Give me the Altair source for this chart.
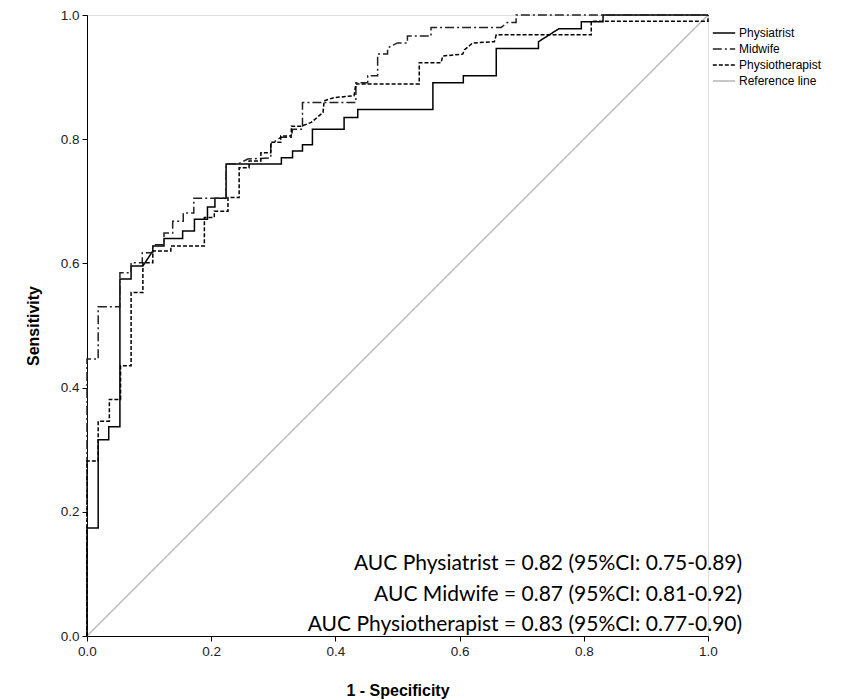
import altair as alt
import pandas as pd

series_names = ["Physiatrist", "Midwife", "Physiotherapist", "Reference line"]
series_colors = ["#000000", "#222222", "#000000", "#b4b4b4"]
series_dashes = [[1, 0], [9, 3, 2, 3], [4, 2], [1, 0]]

# ROC curve vertices (1 - specificity, sensitivity)
physiatrist_points = [
    (0, 0), (0, 0.174), (0.018, 0.174), (0.018, 0.316), (0.035, 0.316), (0.035, 0.337),
    (0.053, 0.337), (0.053, 0.575), (0.071, 0.575), (0.071, 0.596), (0.090, 0.596),
    (0.106, 0.620), (0.106, 0.628), (0.124, 0.628), (0.124, 0.640), (0.154, 0.640),
    (0.154, 0.652), (0.173, 0.652), (0.173, 0.671), (0.194, 0.671), (0.194, 0.691),
    (0.206, 0.691), (0.206, 0.705), (0.224, 0.705), (0.224, 0.760), (0.313, 0.760),
    (0.313, 0.770), (0.331, 0.770), (0.331, 0.781), (0.347, 0.781), (0.347, 0.791),
    (0.363, 0.791), (0.363, 0.816), (0.414, 0.816), (0.414, 0.835), (0.436, 0.835),
    (0.436, 0.848), (0.557, 0.848), (0.557, 0.891), (0.606, 0.891), (0.606, 0.902),
    (0.659, 0.902), (0.659, 0.946), (0.727, 0.946), (0.727, 0.957), (0.760, 0.978),
    (0.796, 0.978), (0.796, 0.989), (0.831, 0.989), (0.831, 1.0), (1.0, 1.0),
]
midwife_points = [
    (0, 0), (0, 0.446), (0.018, 0.446), (0.018, 0.530), (0.053, 0.530), (0.053, 0.585),
    (0.071, 0.585), (0.071, 0.601), (0.089, 0.601), (0.089, 0.617), (0.106, 0.617),
    (0.106, 0.630), (0.124, 0.630), (0.124, 0.649), (0.138, 0.649), (0.138, 0.668),
    (0.155, 0.668), (0.155, 0.681), (0.172, 0.681), (0.172, 0.705), (0.224, 0.705),
    (0.224, 0.760), (0.243, 0.760), (0.259, 0.768), (0.296, 0.770), (0.296, 0.792),
    (0.312, 0.803), (0.329, 0.803), (0.331, 0.816), (0.347, 0.816), (0.347, 0.859),
    (0.433, 0.859), (0.433, 0.891), (0.452, 0.891), (0.452, 0.902), (0.468, 0.902),
    (0.468, 0.937), (0.484, 0.937), (0.484, 0.947), (0.500, 0.955), (0.516, 0.955),
    (0.516, 0.966), (0.554, 0.966), (0.554, 0.980), (0.667, 0.980), (0.677, 0.988),
    (0.691, 0.988), (0.691, 1.0), (1.0, 1.0),
]
physiotherapist_points = [
    (0, 0), (0, 0.282), (0.018, 0.282), (0.018, 0.346), (0.036, 0.346), (0.036, 0.381),
    (0.054, 0.381), (0.054, 0.435), (0.071, 0.435), (0.071, 0.553), (0.090, 0.553),
    (0.090, 0.601), (0.106, 0.601), (0.106, 0.620), (0.135, 0.620), (0.135, 0.628),
    (0.189, 0.628), (0.189, 0.674), (0.205, 0.674), (0.205, 0.684), (0.227, 0.684),
    (0.227, 0.706), (0.245, 0.706), (0.245, 0.754), (0.261, 0.754), (0.261, 0.765),
    (0.280, 0.765), (0.280, 0.778), (0.296, 0.778), (0.296, 0.795), (0.312, 0.795),
    (0.312, 0.805), (0.329, 0.805), (0.329, 0.821), (0.345, 0.821), (0.361, 0.827),
    (0.380, 0.843), (0.382, 0.862), (0.398, 0.867), (0.430, 0.870), (0.433, 0.889),
    (0.535, 0.889), (0.535, 0.923), (0.570, 0.923), (0.573, 0.934), (0.605, 0.937),
    (0.608, 0.944), (0.621, 0.955), (0.656, 0.957), (0.659, 0.968), (0.812, 0.968),
    (0.812, 0.990), (1.0, 0.990), (1.0, 1.0),
]
reference_points = [(0, 0), (1, 1)]

tick_values = [0.0, 0.2, 0.4, 0.6, 0.8, 1.0]

annotation_texts = [
    "AUC Physiatrist = 0.82 (95%CI: 0.75-0.89)",
    "AUC Midwife = 0.87 (95%CI: 0.81-0.92)",
    "AUC Physiotherapist = 0.83 (95%CI: 0.77-0.90)",
]
annotation_x = [1.055, 1.055, 1.055]
annotation_y = [0.116, 0.066, 0.017]

rows = []
for name, pts in zip(series_names, [physiatrist_points, midwife_points,
                                    physiotherapist_points, reference_points]):
    for i, (a, b) in enumerate(pts):
        rows.append({"series": name, "fpr": a, "tpr": b, "idx": i})
df = pd.DataFrame(rows)
ann = pd.DataFrame({"text": annotation_texts, "x": annotation_x, "y": annotation_y})

FONT = "Liberation Sans"

x_axis = alt.Axis(values=tick_values, format=".1f", grid=False, labelFlush=False,
                  labelFont=FONT, labelFontSize=13.5, labelColor="#222222",
                  tickColor="black", domainColor="black", tickSize=5, labelPadding=3,
                  title="1 - Specificity", titleFont=FONT, titleFontSize=16,
                  titleFontWeight="bold", titleColor="black", titlePadding=25)
y_axis = alt.Axis(values=tick_values, format=".1f", grid=False, labelFlush=False,
                  labelFont=FONT, labelFontSize=13.5, labelColor="#222222",
                  tickColor="black", domainColor="black", tickSize=5, labelPadding=3,
                  title="Sensitivity", titleFont=FONT, titleFontSize=16,
                  titleFontWeight="bold", titleColor="black", titlePadding=19)

xs = alt.Scale(domain=[0, 1], nice=False, zero=False)
ys = alt.Scale(domain=[0, 1], nice=False, zero=False)


def make_legend():
    return alt.Legend(title=None, orient="none", legendX=625, legendY=11,
                      symbolType="stroke", symbolSize=500, clipHeight=14,
                      symbolStrokeWidth=1.5, labelFont=FONT,
                      labelFontSize=12, labelColor="black",
                      labelOffset=3, rowPadding=2, padding=0)


color_enc = alt.Color("series:N",
                      scale=alt.Scale(domain=series_names, range=series_colors),
                      legend=make_legend())
dash_enc = alt.StrokeDash("series:N",
                          scale=alt.Scale(domain=series_names, range=series_dashes),
                          legend=make_legend())

base = alt.Chart(df)

ref = base.transform_filter(alt.datum.series == "Reference line").mark_line(
    strokeWidth=1.3).encode(
    x=alt.X("fpr:Q", scale=xs, axis=x_axis),
    y=alt.Y("tpr:Q", scale=ys, axis=y_axis),
    color=color_enc, strokeDash=dash_enc, order="idx:Q")

roc = base.transform_filter(alt.datum.series != "Reference line").mark_line(
    strokeWidth=1.5).encode(
    x=alt.X("fpr:Q", scale=xs, axis=x_axis),
    y=alt.Y("tpr:Q", scale=ys, axis=y_axis),
    color=color_enc, strokeDash=dash_enc, order="idx:Q", detail="series:N")

text = alt.Chart(ann).mark_text(align="right", baseline="middle", font="Lato",
                                fontSize=21, color="black").encode(
    x=alt.X("x:Q", scale=xs), y=alt.Y("y:Q", scale=ys), text="text:N")

chart = alt.layer(ref, roc, text).properties(
    width=621, height=621,
    padding={"left": 17, "top": 0, "right": 0, "bottom": 0},
).configure_view(stroke="black", strokeWidth=1.2).configure(background="white")

chart.save("out.html", embed_options={"renderer": "svg", "actions": False})
